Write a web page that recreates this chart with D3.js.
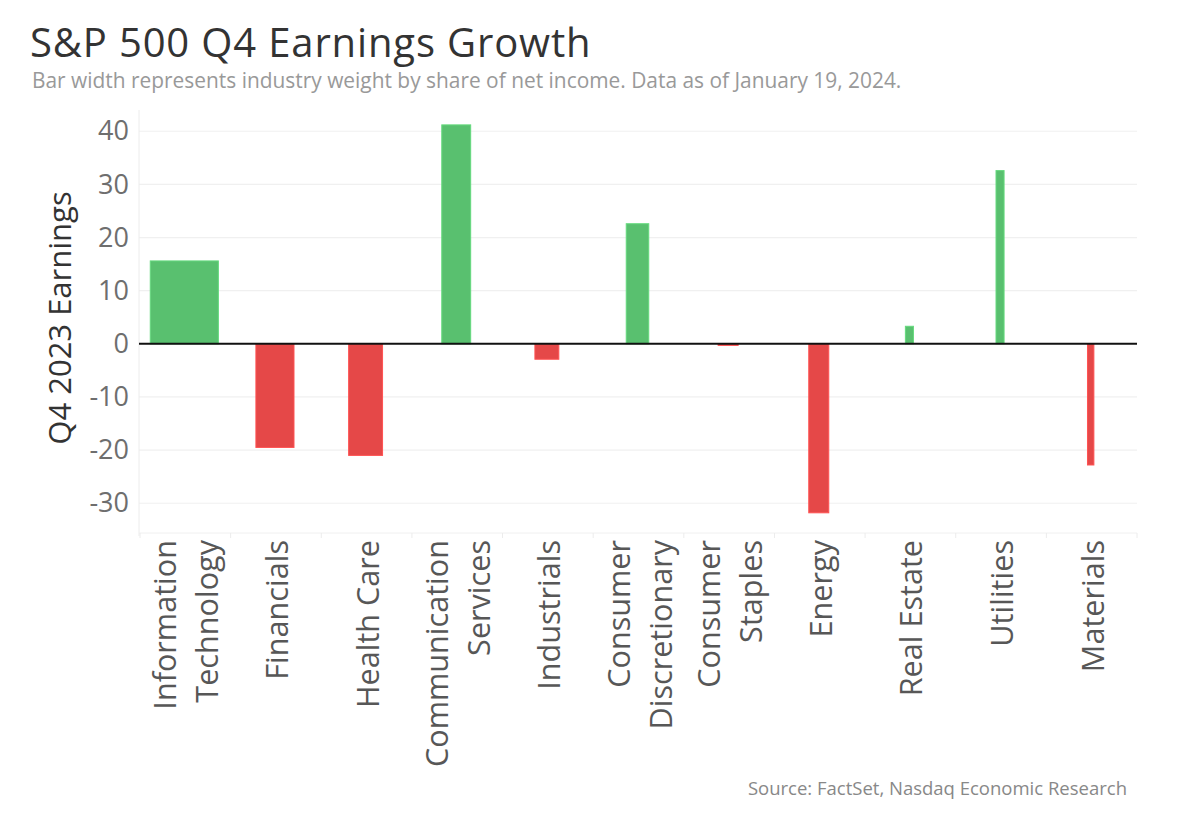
<!DOCTYPE html>
<html>
<head>
<meta charset="utf-8">
<script src="https://cdn.jsdelivr.net/npm/d3@7"></script>
<style>
  html, body { margin: 0; padding: 0; background: #fff; }
  svg { display: block; font-family: "Open Sans", "Noto Sans", sans-serif; }
</style>
</head>
<body>
<svg id="chart" width="1190" height="826"></svg>
<script>
// ---- Data ----
const categories = [
  "Information\nTechnology", "Financials", "Health Care", "Communication\nServices",
  "Industrials", "Consumer\nDiscretionary", "Consumer\nStaples", "Energy",
  "Real Estate", "Utilities", "Materials"
];
const growth = [15.6, -19.5, -21.0, 41.2, -2.9, 22.6, -0.3, -31.8, 3.3, 32.6, -22.8];
const weights = [24.5, 13.7, 12.2, 10.4, 8.6, 8.1, 7.2, 7.2, 2.9, 2.9, 2.3];
const yTicks = [-30, -20, -10, 0, 10, 20, 30, 40];

const titleText = "S&P 500 Q4 Earnings Growth";
const subtitleText = "Bar width represents industry weight by share of net income. Data as of January 19, 2024.";
const yTitle = "Q4 2023 Earnings";
const sourceText = "Source: FactSet, Nasdaq Economic Research";

// ---- Layout ----
const svg = d3.select("#chart");
const plotLeft = 139, plotRight = 1137, plotTop = 110, plotBottom = 533;

const x = d3.scaleBand().domain(categories).range([plotLeft + 1, plotRight]).padding(0);
const y = d3.scaleLinear().domain([-35.6, 44]).range([plotBottom, plotTop]);
const w = d3.scaleLinear().domain([0, 100]).range([0, 278]);

const green = "#59c06f", red = "#e54848";

// Title & subtitle
svg.append("text").attr("x", 30).attr("y", 57)
  .attr("font-size", 40).attr("letter-spacing", 0.85).attr("fill", "#333").text(titleText);
svg.append("text").attr("x", 32).attr("y", 88)
  .attr("font-size", 20.9).attr("fill", "#999").text(subtitleText);

// Gridlines
svg.append("g").selectAll("line").data(yTicks.filter(d => d !== 0)).join("line")
  .attr("x1", plotLeft).attr("x2", plotRight)
  .attr("y1", d => y(d)).attr("y2", d => y(d))
  .attr("stroke", "#f0f0f0").attr("stroke-width", 1.2);

// Left axis line & bottom line
svg.append("line").attr("x1", plotLeft).attr("x2", plotLeft)
  .attr("y1", plotTop).attr("y2", plotBottom + 3)
  .attr("stroke", "#ececec").attr("stroke-width", 1);
svg.append("line").attr("x1", plotLeft).attr("x2", plotRight)
  .attr("y1", plotBottom).attr("y2", plotBottom)
  .attr("stroke", "#f0f0f0").attr("stroke-width", 1);

// Column separators in header
const bounds = categories.map(c => x(c)).concat([plotRight]);
svg.append("g").selectAll("line").data(bounds).join("line")
  .attr("x1", d => d).attr("x2", d => d)
  .attr("y1", plotBottom).attr("y2", plotBottom + 5)
  .attr("stroke", "#ececec").attr("stroke-width", 1);

// Y axis
const yAxis = d3.axisLeft(y).tickValues(yTicks).tickFormat(d => String(d)).tickSize(0).tickPadding(10);
const gy = svg.append("g").attr("transform", `translate(${plotLeft},0)`).call(yAxis);
gy.select(".domain").remove();
gy.selectAll("text").attr("font-size", 27).attr("fill", "#6e6e6e")
  .attr("font-family", "'Open Sans', sans-serif");

// Y title
svg.append("text")
  .attr("transform", `translate(59,${318}) rotate(-90)`)
  .attr("text-anchor", "middle").attr("dominant-baseline", "central")
  .attr("font-size", 31).attr("fill", "#333").text(yTitle);

// Bars
const data = categories.map((c, i) => ({ c, v: growth[i], wt: weights[i] }));
svg.append("g").selectAll("rect").data(data).join("rect")
  .attr("x", d => x(d.c) + x.bandwidth() / 2 - w(d.wt) / 2 - 1)
  .attr("width", d => w(d.wt))
  .attr("y", d => Math.min(y(d.v), y(0)))
  .attr("height", d => Math.max(1, Math.abs(y(d.v) - y(0))))
  .attr("fill", d => d.v >= 0 ? green : red)
  .attr("stroke", d => d3.color(d.v >= 0 ? green : red).brighter(0.35))
  .attr("stroke-width", 1);

// Zero line
svg.append("line").attr("x1", plotLeft).attr("x2", plotRight)
  .attr("y1", y(0)).attr("y2", y(0))
  .attr("stroke", "#111").attr("stroke-width", 2);

// X labels
const gx = svg.append("g");
data.forEach(d => {
  const lines = d.c.split("\n");
  const cx = x(d.c) + x.bandwidth() / 2;
  const spacing = 42;
  lines.forEach((ln, j) => {
    const off = (j - (lines.length - 1) / 2) * spacing;
    gx.append("text")
      .attr("transform", `translate(${cx + off},540) rotate(-90)`)
      .attr("text-anchor", "end").attr("dominant-baseline", "central")
      .attr("font-size", 30.6).attr("fill", "#575757").text(ln);
  });
});

// Source
svg.append("text").attr("x", 1127).attr("y", 795)
  .attr("text-anchor", "end").attr("font-size", 18.5).attr("fill", "#888")
  .text(sourceText);
</script>
</body>
</html>
